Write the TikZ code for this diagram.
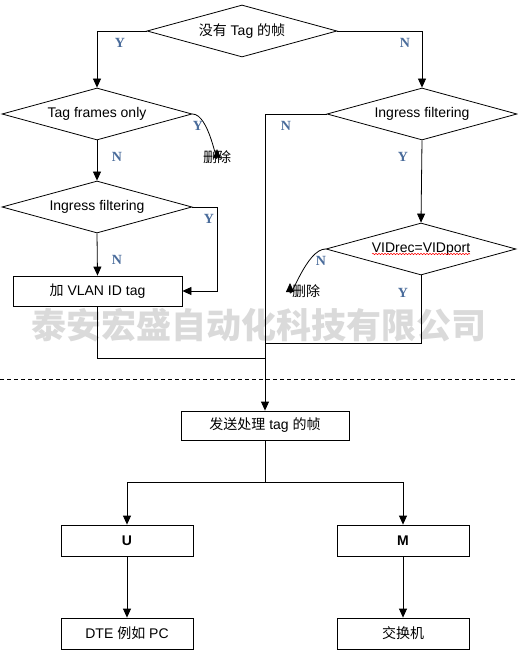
\documentclass[tikz,border=0pt]{standalone}
\usepackage{fontspec}
\setmainfont{Liberation Sans}
\newfontfamily\cjk{Noto Sans CJK SC}
\newfontfamily\ynfont{Liberation Serif}
\usetikzlibrary{shapes.geometric,arrows.meta,decorations.pathmorphing,calc}
\definecolor{ynblue}{HTML}{4A6C9B}
\definecolor{wmgray}{HTML}{DADADA}
\tikzset{
	check/.style={diamond, draw, aspect=3.65, inner sep=0pt, minimum width=190pt, minimum height=52pt},
	stepbox/.style={rectangle, draw, inner sep=0pt, minimum height=30pt},
	flow/.style={-{Triangle[length=9pt,width=8pt]}},
	yn/.style={font=\ynfont\bfseries\fontsize{14}{14}\selectfont, text=ynblue, inner sep=0pt},
}

\begin{document}
\begin{tikzpicture}[x=1pt, y=-1pt, line width=0.8pt, font=\fontsize{14}{16}\selectfont]
		%%%%% START %%%%%
		\useasboundingbox (0,0) rectangle (517,655);
		
		\node[text=wmgray, inner sep=0pt, font=\cjk\bfseries\fontsize{35}{35}\selectfont] (mark) at (259,325) {泰安宏盛自动化科技有限公司};
		
		\node[check] (start) at (242,31) {{\cjk 没有} Tag {\cjk 的帧}};
		\node[check] (tagonly) at (97,114) {Tag frames only};
		\node[check] (ingl) at (97,207) {Ingress filtering};
		\node[stepbox, minimum width=169pt] (addtag) at (97.5,291) {{\cjk 加} VLAN ID tag};
		\node[check] (ingr) at (422,114) {Ingress filtering};
		\node[check] (vid) at (421,249) {VIDrec=VIDport};
		\draw[red, line width=0.5pt, decorate, decoration={snake, amplitude=0.7pt, segment length=3pt}] ($(vid.center)+(-49,5)$) -- ($(vid.center)+(49,5)$);
		
		\node[inner sep=1pt] (del1) at (217,157) {\cjk 删除};
		\node[inner sep=1pt] (del2) at (306,291) {\cjk 删除};
		\coordinate (drop2) at (290,283);
		
		\draw[flow] (start.west) -| (tagonly.north);
		\draw[flow] (start.east) -| (ingr.north);
		\draw[flow] (tagonly.south) -- (ingl.north);
		\draw[flow] (tagonly.east) to[out=0, in=-90] (del1.north);
		\draw[flow] (ingl.south) -- (addtag.north);
		\draw[flow] (ingl.east) -- ++(25,0) |- (addtag.east);
		\draw[flow] (ingr.south) -- (vid.north);
		\draw[flow] (vid.west) to[out=180, in=-90] (drop2);
		
		\draw[dashed, dash pattern=on 4pt off 3pt] (0,379) -- (517,379);
		
		%%%%% lower part %%%%%
		\node[stepbox, minimum width=168pt, minimum height=29pt] (send) at (265,425.5) {{\cjk 发送处理} tag {\cjk 的帧}};
		\node[stepbox, minimum width=132pt, minimum height=31pt] (portu) at (127,540.5) {\textbf{U}};
		\node[stepbox, minimum width=132pt, minimum height=31pt] (portm) at (403,540.5) {\textbf{M}};
		\node[stepbox, minimum width=132pt, minimum height=31pt] (dte) at (127,633.5) {DTE {\cjk 例如} PC};
		\node[stepbox, minimum width=132pt, minimum height=31pt] (switch) at (403,633.5) {\cjk 交换机};
		
		\coordinate (mergel) at (265,358);
		\coordinate (merger) at (265,343);
		\draw[flow] (ingr.west) -| (send.north);
		\draw (addtag.south) |- (mergel);
		\draw (vid.south) |- (merger);
		
		\draw (send.south) -- ++(0,42) coordinate (split);
		\draw[flow] (split) -| (portu.north);
		\draw[flow] (split) -| (portm.north);
		\draw[flow] (portu.south) -- (dte.north);
		\draw[flow] (portm.south) -- (switch.north);
		
		%%%%% Y / N %%%%%
		\node[yn] (y1) at (120,43) {Y};
		\node[yn] (n1) at (405,43) {N};
		\node[yn] (y2) at (198,126) {Y};
		\node[yn] (n2) at (117,157) {N};
		\node[yn] (y3) at (209,219) {Y};
		\node[yn] (n3) at (117,260) {N};
		\node[yn] (n4) at (286,126) {N};
		\node[yn] (y4) at (403,157) {Y};
		\node[yn] (n5) at (321,261) {N};
		\node[yn] (y5) at (403,293) {Y};
		
		%%%%% END %%%%%
\end{tikzpicture}
\end{document}
